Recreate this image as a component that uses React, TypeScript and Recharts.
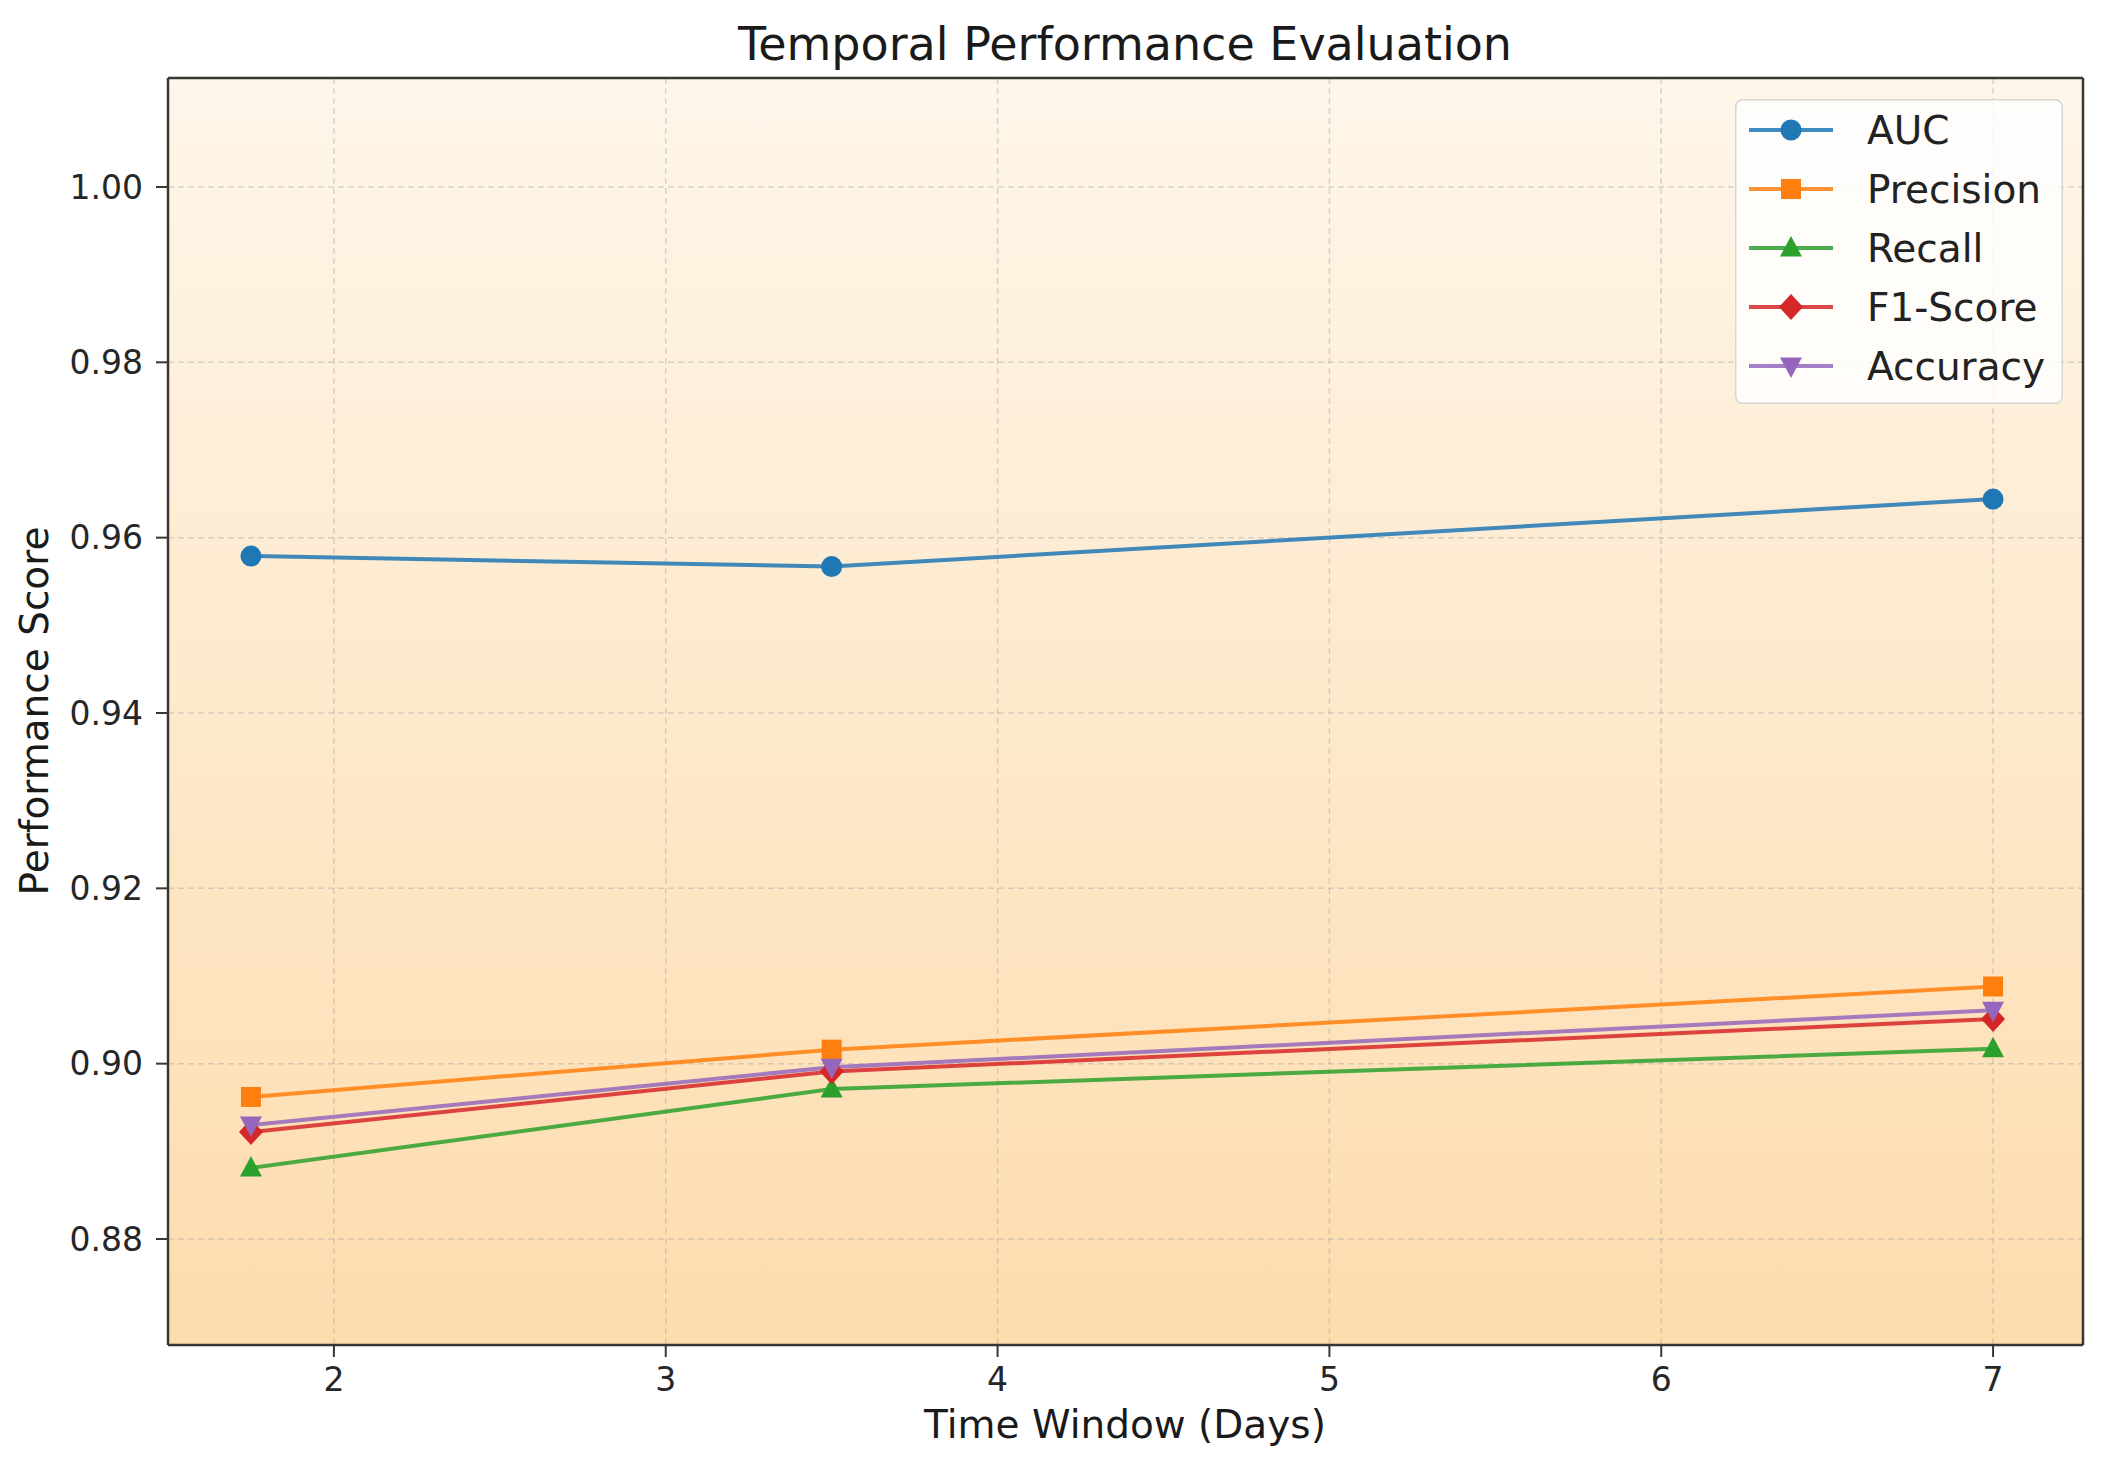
import React from 'react';
import { LineChart, Line, XAxis, YAxis, CartesianGrid, ReferenceLine } from 'recharts';

const days = [1.75, 3.5, 7];
const auc = [0.9579, 0.9567, 0.9644];
const precision = [0.8962, 0.9016, 0.9088];
const recall = [0.8881, 0.8971, 0.9017];
const f1 = [0.8922, 0.8991, 0.9051];
const accuracy = [0.893, 0.8996, 0.9061];

const xTicks = [2, 3, 4, 5, 6, 7];
const yTicks = [0.88, 0.9, 0.92, 0.94, 0.96, 0.98, 1.0];
const xDomain = [1.5, 7.271];
const yDomain = [0.86791, 1.01243];

const seriesNames = ['AUC', 'Precision', 'Recall', 'F1-Score', 'Accuracy'];
const seriesKeys = ['auc', 'precision', 'recall', 'f1', 'accuracy'];
const seriesColors = ['#1f77b4', '#ff7f0e', '#2ca02c', '#d62728', '#9467bd'];
const seriesShapes = ['circle', 'square', 'triUp', 'diamond', 'triDown'];

const data = days.map((d, i) => ({
  day: d,
  auc: auc[i],
  precision: precision[i],
  recall: recall[i],
  f1: f1[i],
  accuracy: accuracy[i],
}));

const FONT = '"DejaVu Sans", Verdana, sans-serif';
const W = 2104;
const H = 1471;
const SPINE = '#3a3632';

function Marker({ shape, cx, cy, color }: { shape: string; cx: number; cy: number; color: string }) {
  if (cx == null || cy == null) return null;
  switch (shape) {
    case 'circle':
      return <circle cx={cx} cy={cy} r={10.5} fill={color} />;
    case 'square':
      return <rect x={cx - 10} y={cy - 10} width={20} height={20} fill={color} />;
    case 'triUp':
      return <polygon points={`${cx},${cy - 12} ${cx - 11},${cy + 8.5} ${cx + 11},${cy + 8.5}`} fill={color} />;
    case 'triDown':
      return <polygon points={`${cx},${cy + 12} ${cx - 11},${cy - 8.5} ${cx + 11},${cy - 8.5}`} fill={color} />;
    case 'diamond':
      return <polygon points={`${cx},${cy - 13} ${cx + 12},${cy} ${cx},${cy + 13} ${cx - 12},${cy}`} fill={color} />;
    default:
      return null;
  }
}

const makeDot = (shape: string, color: string) => (props: any) => {
  const { cx, cy, index } = props;
  return (
    <g key={`${shape}-${index}`}>
      <Marker shape={shape} cx={cx} cy={cy} color={color} />
    </g>
  );
};

function LegendBox() {
  const rowY = (i: number) => 31 + i * 59;
  return (
    <svg width={328} height={305} style={{ display: 'block', overflow: 'visible' }}>
      <rect x={0.75} y={0.75} width={326.5} height={303.5} rx={7} ry={7} fill="#ffffff" fillOpacity={0.82} stroke="#d6d6d6" strokeWidth={1.5} />
      {seriesNames.map((n, i) => (
        <g key={n}>
          <line x1={14} x2={98} y1={rowY(i)} y2={rowY(i)} stroke={seriesColors[i]} strokeWidth={4} strokeOpacity={0.85} />
          <Marker shape={seriesShapes[i]} cx={56} cy={rowY(i)} color={seriesColors[i]} />
          <text x={132} y={rowY(i) + 14} fontFamily={FONT} fontSize={39} fill="#222222">
            {n}
          </text>
        </g>
      ))}
    </svg>
  );
}

export default function App() {
  return (
    <div style={{ position: 'absolute', left: 0, top: 0, width: W, height: H, background: '#ffffff' }}>
      <LineChart
        width={W}
        height={H}
        data={data}
        margin={{ top: 78, right: 21, bottom: 0, left: 0 }}
        style={{ fontFamily: FONT }}
      >
        <defs>
          <linearGradient id="bgGrad" x1="0" y1="0" x2="0" y2="1">
            <stop offset="0%" stopColor="#fef6ea" />
            <stop offset="100%" stopColor="#fddcad" />
          </linearGradient>
        </defs>
        <CartesianGrid
          fill="url(#bgGrad)"
          fillOpacity={1}
          stroke="#a8a8a8"
          strokeOpacity={0.45}
          strokeWidth={1.5}
          strokeDasharray="6 4"
        />
        <XAxis
          dataKey="day"
          type="number"
          domain={xDomain}
          ticks={xTicks}
          allowDataOverflow
          height={126}
          tickSize={12}
          tickMargin={11}
          axisLine={{ stroke: SPINE, strokeWidth: 2.5 }}
          tickLine={{ stroke: SPINE, strokeWidth: 2 }}
          tick={{ fill: '#262626', fontSize: 33, fontFamily: FONT }}
          interval={0}
        />
        <YAxis
          type="number"
          domain={yDomain}
          ticks={yTicks}
          allowDataOverflow
          width={168}
          tickSize={12}
          tickMargin={13}
          axisLine={{ stroke: SPINE, strokeWidth: 2.5 }}
          tickLine={{ stroke: SPINE, strokeWidth: 2 }}
          tick={{ fill: '#262626', fontSize: 33, fontFamily: FONT }}
          tickFormatter={(v: number) => v.toFixed(2)}
          interval={0}
        />
        <ReferenceLine y={yDomain[1]} stroke={SPINE} strokeWidth={2.5} ifOverflow="visible" />
        <ReferenceLine x={xDomain[1]} stroke={SPINE} strokeWidth={2.5} ifOverflow="visible" />
        {seriesKeys.map((k, i) => (
          <Line
            key={k}
            dataKey={k}
            name={seriesNames[i]}
            type="linear"
            stroke={seriesColors[i]}
            strokeWidth={4}
            strokeOpacity={0.85}
            dot={makeDot(seriesShapes[i], seriesColors[i])}
            activeDot={false}
            isAnimationActive={false}
          />
        ))}
        <text x={1125} y={60} textAnchor="middle" fontFamily={FONT} fontSize={46} fill="#1a1a1a">
          Temporal Performance Evaluation
        </text>
        <text x={1125} y={1438} textAnchor="middle" fontFamily={FONT} fontSize={39} fill="#1a1a1a">
          Time Window (Days)
        </text>
        <text
          x={48}
          y={711}
          textAnchor="middle"
          fontFamily={FONT}
          fontSize={39}
          fill="#1a1a1a"
          transform="rotate(-90 48 711)"
        >
          Performance Score
        </text>
      </LineChart>
      <div style={{ position: 'absolute', left: 1735, top: 99, width: 328, height: 305 }}>
        <LegendBox />
      </div>
    </div>
  );
}
